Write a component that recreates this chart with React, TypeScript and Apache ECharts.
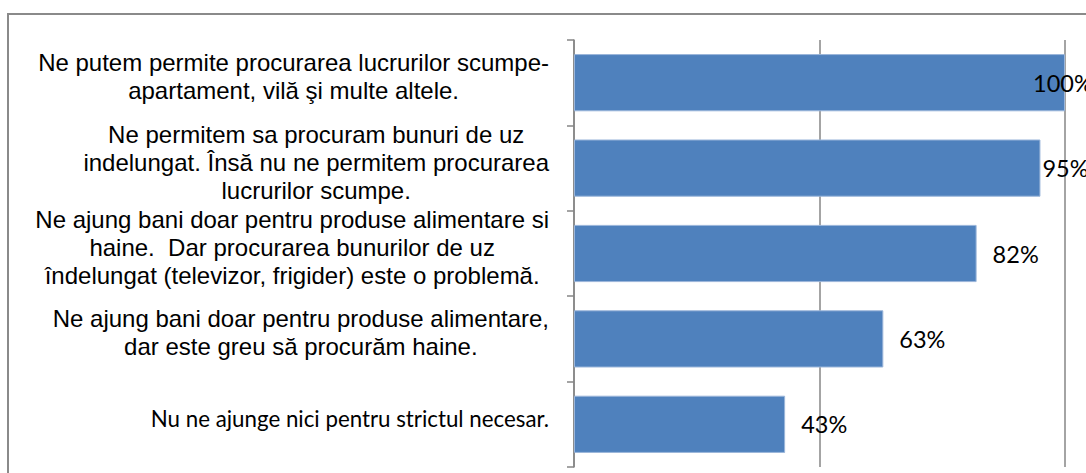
import React, { useEffect, useRef } from "react";
import * as echarts from "echarts";

const categories: string[] = [
  "Ne putem permite procurarea lucrurilor scumpe-\napartament, vilă şi multe altele.",
  "Ne permitem sa procuram bunuri de uz\nindelungat. Însă nu ne permitem procurarea\nlucrurilor scumpe.",
  "Ne ajung bani doar pentru produse alimentare si\nhaine.  Dar procurarea bunurilor de uz\nîndelungat (televizor, frigider) este o problemă.",
  "Ne ajung bani doar pentru produse alimentare,\ndar este greu să procurăm haine.",
  "Nu ne ajunge nici pentru strictul necesar.",
];
const values: number[] = [100, 95, 82, 63, 43];
const axisMax = 100;
const axisInterval = 50;

export default function App() {
  const ref = useRef<HTMLDivElement>(null);
  useEffect(() => {
    if (!ref.current) return;
    const chart = echarts.init(ref.current, null, { renderer: "svg" });
    const labelOffsets: Record<number, number[]> = { 0: [-48, 0], 1: [-14, 0] };
    chart.setOption({
      animation: false,
      backgroundColor: "#ffffff",
      graphic: [
        {
          type: "rect",
          z: -10,
          silent: true,
          shape: { x: 8, y: 14, width: 1200, height: 600 },
          style: { fill: "none", stroke: "#8a8a8a", lineWidth: 2 },
        },
      ],
      grid: { left: 574, right: 21, top: 40, bottom: 6, containLabel: false },
      xAxis: {
        type: "value",
        min: 0,
        max: axisMax,
        interval: axisInterval,
        axisLabel: { show: false },
        axisLine: { show: false },
        axisTick: { show: false },
        splitLine: { show: true, lineStyle: { color: "#868686", width: 1.5 } },
      },
      yAxis: {
        type: "category",
        inverse: true,
        data: categories,
        axisLine: { show: true, lineStyle: { color: "#868686", width: 1.5 } },
        axisTick: { show: true, length: 7, lineStyle: { color: "#868686", width: 1.5 } },
        axisLabel: {
          margin: 25,
          align: "right",
          padding: [0, 0, 12, 0],
          formatter: (val: string, idx: number) => {
            const key = idx === categories.length - 1 ? "d" : "c";
            return val
              .split("\n")
              .map((l) => `{${key}|${l}}`)
              .join("\n");
          },
          rich: {
            c: {
              align: "center",
              fontFamily: "Liberation Sans, Arial, sans-serif",
              fontSize: 24,
              lineHeight: 28,
              color: "#000000",
            },
            d: {
              align: "center",
              fontFamily: "Lato, sans-serif",
              fontSize: 22.3,
              lineHeight: 28,
              color: "#000000",
            },
          },
        },
      },
      series: [
        {
          type: "bar",
          barCategoryGap: "33%",
          data: values.map((v, i) => ({
            value: v,
            label: labelOffsets[i] ? { offset: labelOffsets[i] } : undefined,
          })),
          itemStyle: { color: "#4F81BD", borderColor: "#9bb6da", borderWidth: 1 },
          label: {
            show: true,
            position: "right",
            distance: 16,
            formatter: (p: any) => `${p.value}%`,
            fontFamily: "Lato, sans-serif",
            fontSize: 23.5,
            color: "#000000",
          },
        },
      ],
    });
    return () => chart.dispose();
  }, []);
  return (
    <div
      ref={ref}
      style={{ position: "fixed", left: 0, top: 0, width: 1086, height: 473, background: "#fff" }}
    />
  );
}
